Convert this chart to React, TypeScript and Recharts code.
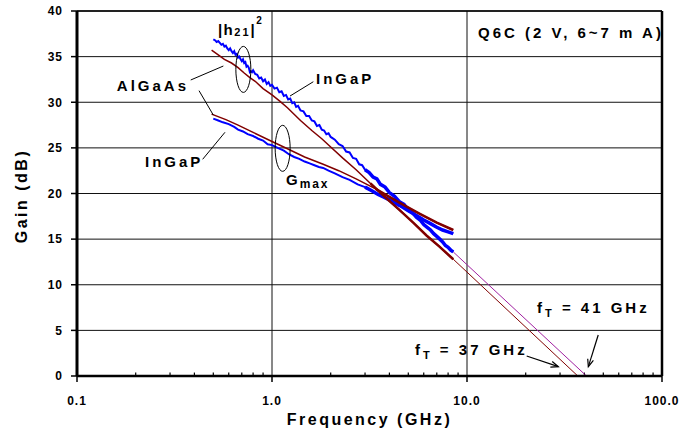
import React from 'react';
import { LineChart, Line, XAxis, YAxis, CartesianGrid, ReferenceLine, ReferenceDot, Label } from 'recharts';

const FONT = '"Liberation Sans", Arial, Helvetica, sans-serif';

const xTicks = [0.1, 1, 10, 100];
const yTicks = [0, 5, 10, 15, 20, 25, 30, 35, 40];
const minorTicks = [0.2, 0.3, 0.4, 0.5, 0.6, 0.7, 0.8, 0.9, 2, 3, 4, 5, 6, 7, 8, 9, 20, 30, 40, 50, 60, 70, 80, 90];

// |h21|^2 InGaP (blue, measured)
const h21InGaPFreq = [
  0.50, 0.51, 0.52, 0.53, 0.54, 0.55, 0.56, 0.57, 0.58, 0.59,
  0.60, 0.61, 0.62, 0.63, 0.64, 0.65, 0.66, 0.67, 0.68, 0.69,
  0.70, 0.71, 0.72, 0.73, 0.74, 0.75, 0.76, 0.77, 0.78, 0.79,
  0.80, 0.82, 0.84, 0.86, 0.88, 0.90, 0.92, 0.94, 0.96, 0.98,
  1.00, 1.03, 1.06, 1.09, 1.12, 1.15, 1.18, 1.21, 1.24, 1.27,
  1.30, 1.33, 1.36, 1.40, 1.45, 1.50, 1.55, 1.60, 1.65, 1.70,
  1.75, 1.80, 1.85, 1.90, 1.95, 2.00, 2.10, 2.20, 2.30, 2.40,
  2.50, 2.60, 2.70, 2.80, 2.90, 3.00, 3.15, 3.30, 3.45, 3.60,
  3.80, 4.00, 4.25, 4.50, 4.75, 5.00, 5.25, 5.50, 5.75, 6.00,
  6.25, 6.50, 6.75, 7.00, 7.25, 7.50, 7.75, 8.00, 8.25, 8.50,
];
const h21InGaPGain = [
  36.9, 36.8, 36.6, 36.7, 36.5, 36.3, 36.4, 36.1, 36.2, 35.9,
  35.7, 35.9, 35.6, 35.4, 35.6, 35.2, 35.3, 34.9, 35.0, 34.7,
  34.5, 34.7, 34.3, 34.4, 33.9, 34.0, 33.8, 33.3, 33.4, 33.3,
  33.5, 33.1, 33.0, 32.6, 32.7, 32.3, 32.5, 32.0, 32.2, 31.8,
  31.9, 31.5, 31.6, 31.1, 31.2, 30.7, 30.8, 30.3, 30.4, 29.9,
  30.0, 29.5, 29.6, 29.1, 29.0, 28.5, 28.5, 28.0, 27.9, 27.4,
  27.5, 27.0, 26.9, 26.5, 26.6, 26.2, 25.9, 25.4, 25.2, 24.6,
  24.5, 23.9, 23.8, 23.2, 23.1, 22.6, 22.3, 21.8, 21.6, 21.0,
  20.7, 20.1, 19.7, 19.1, 18.8, 18.2, 17.9, 17.4, 17.1, 16.6,
  16.3, 16.0, 15.6, 15.3, 15.0, 14.7, 14.3, 14.1, 13.8, 13.6,
];

// |h21|^2 AlGaAs (brown, measured)
const h21AlGaAsFreq = [0.49, 0.53, 0.57, 0.62, 0.67, 0.72, 0.77, 0.82, 0.90, 1.00, 1.10, 1.20, 1.40, 1.60, 1.80, 2.00, 2.30, 2.70, 3.20, 3.80, 4.50, 5.30, 6.20, 7.20, 8.50];
const h21AlGaAsGain = [35.7, 35.2, 34.7, 34.3, 33.8, 33.2, 32.7, 32.3, 31.5, 30.8, 30.1, 29.4, 28.0, 26.9, 26.0, 25.1, 23.9, 22.6, 21.1, 19.6, 18.2, 16.8, 15.4, 14.2, 12.8];

// Gmax AlGaAs (brown)
const gmaxAlGaAsFreq = [0.49, 0.58, 0.67, 0.80, 1.00, 1.20, 1.47, 1.83, 2.20, 2.70, 3.40, 4.50, 5.70, 7.00, 8.50];
const gmaxAlGaAsGain = [28.7, 28.1, 27.5, 26.7, 25.7, 24.9, 24.0, 23.2, 22.5, 21.6, 20.5, 19.0, 17.8, 16.8, 16.0];

// Gmax InGaP (blue)
const gmaxInGaPFreq = [
  0.50, 0.53, 0.56, 0.60, 0.64, 0.67, 0.71, 0.75, 0.80, 0.85,
  0.90, 0.95, 1.00, 1.07, 1.15, 1.22, 1.30, 1.38, 1.47, 1.56,
  1.65, 1.74, 1.83, 1.95, 2.10, 2.30, 2.50, 2.75, 3.00, 3.25,
  3.50, 3.75, 4.00, 4.25, 4.50, 4.75, 5.00, 5.50, 6.00, 6.50,
  7.00, 7.50, 8.00, 8.50,
];
const gmaxInGaPGain = [
  28.2, 28.0, 27.8, 27.6, 27.3, 27.0, 26.8, 26.5, 26.3, 26.0,
  25.8, 25.4, 25.3, 25.0, 24.7, 24.3, 24.0, 23.8, 23.5, 23.3,
  23.1, 22.9, 22.8, 22.5, 22.2, 21.8, 21.5, 21.0, 20.7, 20.3,
  19.9, 19.6, 19.3, 19.0, 18.7, 18.4, 18.1, 17.6, 17.1, 16.7,
  16.3, 16.0, 15.8, 15.6,
];

// -20 dB/dec extrapolations
const fitAlGaAsFreq = [8.5, 37];
const fitAlGaAsGain = [12.8, 0];
const fitInGaPFreq = [8.5, 41];
const fitInGaPGain = [13.6, 0];

const zip = (fs: number[], gs: number[]) => fs.map((f, i) => ({ f, g: gs[i] }));
const hi = (d: { f: number; g: number }[]) => d.filter((p) => p.f >= 3.0);

const h21InGaP = zip(h21InGaPFreq, h21InGaPGain);
const h21AlGaAs = zip(h21AlGaAsFreq, h21AlGaAsGain);
const gmaxAlGaAs = zip(gmaxAlGaAsFreq, gmaxAlGaAsGain);
const gmaxInGaP = zip(gmaxInGaPFreq, gmaxInGaPGain);
const fitAlGaAs = zip(fitAlGaAsFreq, fitAlGaAsGain);
const fitInGaP = zip(fitInGaPFreq, fitInGaPGain);

const BLUE = '#0000ff';
const BROWN = '#800000';
const PURPLE = '#a020a0';

const txtStyle = { fontFamily: FONT, fontWeight: 'bold' as const, fill: '#000' };

const textAt = (key: string, f: number, g: number, render: (x: number, y: number) => React.ReactElement) => (
  <ReferenceDot key={key} x={f} y={g} r={0} ifOverflow="visible" shape={(p: any) => render(p.cx, p.cy)} />
);

const ellipseAt = (key: string, f: number, g: number) => (
  <ReferenceDot key={key} x={f} y={g} r={0} ifOverflow="visible"
    shape={(p: any) => <ellipse cx={p.cx} cy={p.cy} rx={7.5} ry={23} fill="none" stroke="#000" strokeWidth={1} />} />
);

const leader = (key: string, f1: number, g1: number, f2: number, g2: number) => (
  <ReferenceLine key={key} segment={[{ x: f1, y: g1 }, { x: f2, y: g2 }]} stroke="#000" strokeWidth={1} ifOverflow="visible" />
);

const arrowShape = (p: any) => {
  const { x1, y1, x2, y2 } = p;
  const a = Math.atan2(y2 - y1, x2 - x1);
  const L = 8;
  const w = 0.38;
  return (
    <g>
      <line x1={x1} y1={y1} x2={x2} y2={y2} stroke="#000" strokeWidth={1.2} />
      <path
        d={`M${x2 - L * Math.cos(a - w)},${y2 - L * Math.sin(a - w)} L${x2},${y2} L${x2 - L * Math.cos(a + w)},${y2 - L * Math.sin(a + w)}`}
        fill="none" stroke="#000" strokeWidth={1.2} />
    </g>
  );
};

const arrow = (key: string, f1: number, g1: number, f2: number, g2: number) => (
  <ReferenceLine key={key} segment={[{ x: f1, y: g1 }, { x: f2, y: g2 }]} ifOverflow="visible" shape={arrowShape} />
);

export default function App() {
  return (
    <div style={{ position: 'absolute', left: 0, top: 0, width: 681, height: 435, background: '#fff', fontFamily: FONT }}>
      <LineChart width={681} height={435} margin={{ top: 11, right: 19, bottom: 0, left: 0 }}>
        <CartesianGrid stroke="#111" strokeWidth={1} />
        <XAxis
          dataKey="f" type="number" scale="log" domain={[0.1, 100]} ticks={xTicks} allowDataOverflow interval={0}
          tickFormatter={(v: number) => v.toFixed(1)}
          height={59} tickSize={6} tickMargin={14}
          axisLine={{ stroke: '#000', strokeWidth: 2.5 }}
          tickLine={{ stroke: '#000', strokeWidth: 1.5 }}
          tick={{ fill: '#000', fontSize: 12, fontWeight: 'bold', fontFamily: FONT, letterSpacing: 1 }}
        >
          <Label content={(p: any) => {
            const vb = p.viewBox || { x: 77, y: 376, width: 585, height: 59 };
            return (
              <text x={vb.x + vb.width / 2} y={425} textAnchor="middle" style={{ ...txtStyle, fontSize: 16, letterSpacing: 2.5 }}>
                Frequency (GHz)
              </text>
            );
          }} />
        </XAxis>
        <YAxis
          dataKey="g" type="number" domain={[0, 40]} ticks={yTicks} interval={0} allowDataOverflow
          width={77} tickSize={6} tickMargin={8}
          axisLine={{ stroke: '#000', strokeWidth: 3 }}
          tickLine={{ stroke: '#000', strokeWidth: 1.5 }}
          tick={{ fill: '#000', fontSize: 12, fontWeight: 'bold', fontFamily: FONT, letterSpacing: 1 }}
        >
          <Label content={() => (
            <text x={27} y={196} textAnchor="middle" transform="rotate(-90, 27, 196)" style={{ ...txtStyle, fontSize: 16, letterSpacing: 2.5 }}>
              Gain (dB)
            </text>
          )} />
        </YAxis>

        <ReferenceLine x={100} stroke="#000" strokeWidth={2.5} />
        <ReferenceLine y={40} stroke="#000" strokeWidth={1.5} />
        {minorTicks.map((m) => (
          <ReferenceLine key={'mt' + m} segment={[{ x: m, y: 0 }, { x: m, y: 0.38 }]} stroke="#000" strokeWidth={1.2} />
        ))}

        <Line data={fitAlGaAs} dataKey="g" stroke={BROWN} strokeWidth={1} dot={false} isAnimationActive={false} />
        <Line data={fitInGaP} dataKey="g" stroke={PURPLE} strokeWidth={1} dot={false} isAnimationActive={false} />

        <Line data={h21InGaP} dataKey="g" stroke={BLUE} strokeWidth={2} dot={false} isAnimationActive={false} />
        <Line data={hi(h21InGaP)} dataKey="g" stroke={BLUE} strokeWidth={3.5} dot={false} isAnimationActive={false} />
        <Line data={gmaxInGaP} dataKey="g" stroke={BLUE} strokeWidth={2} dot={false} isAnimationActive={false} />
        <Line data={hi(gmaxInGaP)} dataKey="g" stroke={BLUE} strokeWidth={3.5} dot={false} isAnimationActive={false} />
        <Line data={h21AlGaAs} dataKey="g" stroke={BROWN} strokeWidth={1.5} dot={false} isAnimationActive={false} />
        <Line data={hi(h21AlGaAs)} dataKey="g" stroke={BROWN} strokeWidth={2.5} dot={false} isAnimationActive={false} />
        <Line data={gmaxAlGaAs} dataKey="g" stroke={BROWN} strokeWidth={1.5} dot={false} isAnimationActive={false} />
        <Line data={hi(gmaxAlGaAs)} dataKey="g" stroke={BROWN} strokeWidth={2.5} dot={false} isAnimationActive={false} />

        {ellipseAt('e1', 0.713, 33.6)}
        {ellipseAt('e2', 1.134, 24.95)}

        {leader('l1', 0.383, 32.44, 0.563, 33.97)}
        {leader('l2', 0.4224, 31.27, 0.5, 28.6)}
        {leader('l3', 1.629, 32.25, 1.237, 30.68)}
        {leader('l4', 0.441, 23.75, 0.574, 26.71)}

        {arrow('a1', 20.23, 2.19, 29.4, 1.02)}
        {arrow('a2', 47.1, 4.49, 41.9, 1.02)}

        {textAt('t1', 0.528, 37.37, (x, y) => (
          <text x={x} y={y} style={{ ...txtStyle, fontSize: 15, letterSpacing: 1.5 }}>
            |h<tspan fontSize={11} dy={1} style={{ letterSpacing: 2 }}>21</tspan><tspan dy={-1}>|</tspan><tspan fontSize={10} dy={-11}>2</tspan>
          </text>
        ))}
        {textAt('t2', 0.16, 31.18, (x, y) => (
          <text x={x} y={y} style={{ ...txtStyle, fontSize: 15, letterSpacing: 3 }}>AlGaAs</text>
        ))}
        {textAt('t3', 1.681, 32.0, (x, y) => (
          <text x={x} y={y} style={{ ...txtStyle, fontSize: 15, letterSpacing: 3 }}>InGaP</text>
        ))}
        {textAt('t4', 0.2232, 22.9, (x, y) => (
          <text x={x} y={y} style={{ ...txtStyle, fontSize: 15, letterSpacing: 3 }}>InGaP</text>
        ))}
        {textAt('t5', 1.18, 20.93, (x, y) => (
          <text x={x} y={y} style={{ ...txtStyle, fontSize: 15, letterSpacing: 2 }}>
            G<tspan fontSize={12} dy={3} style={{ letterSpacing: 1.8 }}>max</tspan>
          </text>
        ))}
        {textAt('t6', 11.39, 37.04, (x, y) => (
          <text x={x} y={y} style={{ ...txtStyle, fontSize: 15, letterSpacing: 3 }}>Q6C (2 V, 6~7 m A)</text>
        ))}
        {textAt('t7', 22.86, 6.9, (x, y) => (
          <text x={x} y={y} style={{ ...txtStyle, fontSize: 15, letterSpacing: 3 }}>
            f<tspan fontSize={11} dy={4}>T</tspan><tspan dy={-4}> = 41 GHz</tspan>
          </text>
        ))}
        {textAt('t8', 5.41, 2.3, (x, y) => (
          <text x={x} y={y} style={{ ...txtStyle, fontSize: 15, letterSpacing: 3 }}>
            f<tspan fontSize={11} dy={4}>T</tspan><tspan dy={-4}> = 37 GHz</tspan>
          </text>
        ))}
      </LineChart>
    </div>
  );
}
